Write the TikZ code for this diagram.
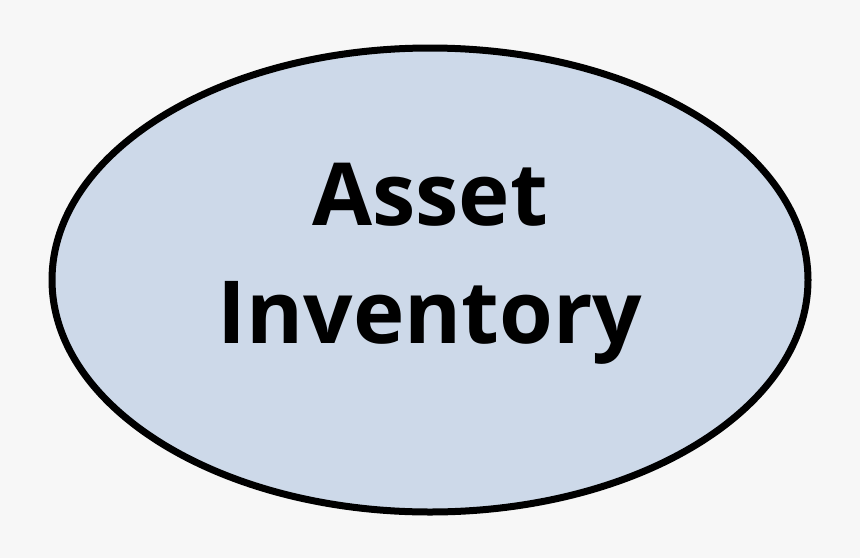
\documentclass[tikz,border=0pt]{standalone}
\usepackage{fontspec}
\setmainfont{Open Sans}
\usetikzlibrary{shapes.geometric}

\definecolor{pagegray}{HTML}{F7F7F7}
\definecolor{assetblue}{HTML}{CDD9E9}

\begin{document}
\begin{tikzpicture}[x=1pt,y=-1pt]
\tikzset{
  assetnode/.style={ellipse,draw=black,line width=7pt,fill=assetblue,
    minimum width=756pt,minimum height=464pt,inner sep=0pt},
  assettext/.style={align=center,inner sep=0pt,
    font=\fontsize{87}{118}\selectfont\bfseries}
}
\fill[pagegray] (0,0) rectangle (860,558);
\useasboundingbox (0,0) rectangle (860,558);
\node[assetnode] (n_inv) at (430,280) {};
\node[assettext] (n_label) at (430,264) {Asset\\Inventory};
\end{tikzpicture}
\end{document}
